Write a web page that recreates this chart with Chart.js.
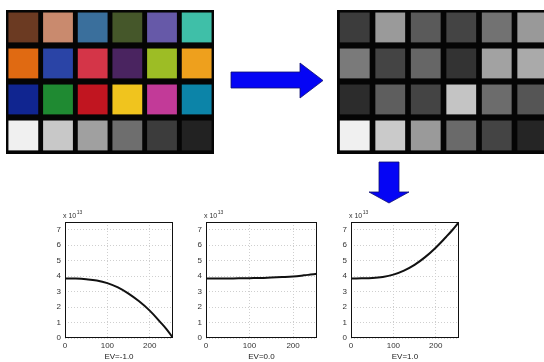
<!DOCTYPE html>
<html><head><meta charset="utf-8">
<script src="https://cdn.jsdelivr.net/npm/chart.js@4/dist/chart.umd.min.js"></script>
<style>
html,body{margin:0;padding:0;background:#fff;width:544px;height:362px;overflow:hidden;position:relative}
canvas{position:absolute;display:block}
svg{position:absolute;left:0;top:0}
</style></head><body>
<canvas id="color" width="208" height="144" style="left:6px;top:10px"></canvas>
<canvas id="gray" width="213" height="144" style="left:337px;top:10px"></canvas>
<svg width="544" height="362">
  <polygon points="231,72 300,72 300,63 323,80.5 300,98 300,88 231,88" fill="#0505f5" stroke="#101070" stroke-width="0.8"/>
  <polygon points="379,162 399,162 399,192 409,192 389,203 369,192 379,192" fill="#0505f5" stroke="#101070" stroke-width="0.8"/>
</svg>
<canvas id="p1" width="141" height="157" style="left:40px;top:205px"></canvas>
<canvas id="p2" width="144" height="157" style="left:181px;top:205px"></canvas>
<canvas id="p3" width="141" height="157" style="left:326px;top:205px"></canvas>
<script>
// ---- colour checker (rows top to bottom) ----
const checkerCols = ['1','2','3','4','5','6'];
const colorRow1 = ['#6b3a22','#c98a6e','#3a6f9c','#45572a','#6659a8','#3fbfa8'];
const colorRow2 = ['#e06a12','#2a44a6','#d43548','#4a2460','#9dbd25','#eea01d'];
const colorRow3 = ['#102590','#1f8a32','#c11520','#f0c41e','#c23a98','#0c84a8'];
const colorRow4 = ['#f0f0f0','#c8c8c8','#a0a0a0','#6e6e6e','#3c3c3c','#222222'];
// ---- grayscale result ----
const grayRow1 = ['#3c3c3c','#9a9a9a','#5a5a5a','#444444','#727272','#999999'];
const grayRow2 = ['#7a7a7a','#444444','#666666','#333333','#a2a2a2','#aaaaaa'];
const grayRow3 = ['#2c2c2c','#5e5e5e','#444444','#c4c4c4','#6c6c6c','#555555'];
const grayRow4 = ['#f0f0f0','#cacaca','#9a9a9a','#6a6a6a','#444444','#252525'];
// ---- curves ----
const xVals  = [0,25,50,75,100,125,150,175,200,225,240,255];
const evNeg1 = [3.85,3.84,3.80,3.72,3.55,3.27,2.87,2.37,1.77,1.03,0.56,0.00];
const ev0    = [3.85,3.85,3.85,3.86,3.87,3.88,3.91,3.94,3.98,4.05,4.10,4.15];
const evPos1 = [3.85,3.86,3.88,3.95,4.10,4.36,4.73,5.23,5.84,6.55,7.00,7.50];
const xTicks = [0,100,200];
const yTicks = [0,1,2,3,4,5,6,7];
const titles = ['EV=-1.0','EV=0.0','EV=1.0'];

const blackBg = {id:'bg',beforeDraw(c){const x=c.ctx;x.save();x.fillStyle='#050505';x.fillRect(0,0,c.width,c.height);x.restore();}};

function checker(id, rows, barPct){
  new Chart(document.getElementById(id),{
    type:'bar',
    data:{labels:checkerCols,datasets:rows.map((cols,i)=>({
      data:cols.map(()=>[i+0.07,i+0.9]),
      backgroundColor:cols,borderWidth:0,grouped:false,
      barPercentage:barPct,categoryPercentage:1
    }))},
    options:{responsive:false,animation:false,devicePixelRatio:1,
      layout:{padding:0},
      plugins:{legend:{display:false},tooltip:{enabled:false}},
      scales:{x:{display:false},y:{display:false,min:0,max:4,reverse:true}}},
    plugins:[blackBg]
  });
}
checker('color',[colorRow1,colorRow2,colorRow3,colorRow4],0.86);
checker('gray',[grayRow1,grayRow2,grayRow3,grayRow4],0.84);

const boxPlugin = {id:'box',afterDraw(c){
  const a=c.chartArea,x=c.ctx;x.save();
  x.strokeStyle='#111';x.lineWidth=1;x.strokeRect(a.left+0.5,a.top+0.5,a.right-a.left-1,a.bottom-a.top-1);
  x.fillStyle='#333';x.font='7px "Liberation Sans"';x.textBaseline='alphabetic';x.textAlign='left';
  x.fillText('x 10',a.left-2,a.top-4);
  const w=x.measureText('x 10').width;
  x.font='5px "Liberation Sans"';x.fillText('13',a.left-2+w+0.5,a.top-8);
  x.restore();
}};

function plot(id, ys, title, padRight){
  new Chart(document.getElementById(id),{
    type:'line',
    data:{datasets:[{data:xVals.map((v,i)=>({x:v,y:ys[i]})),borderColor:'#111',borderWidth:2,
      pointRadius:0,tension:0.4,fill:false}]},
    options:{responsive:false,animation:false,devicePixelRatio:1,
      layout:{padding:{top:17,right:padRight,left:0,bottom:0}},
      plugins:{legend:{display:false},tooltip:{enabled:false}},
      scales:{
        x:{type:'linear',min:0,max:255,
          afterBuildTicks:s=>{s.ticks=xTicks.map(v=>({value:v}));},
          afterFit:s=>{s.height=24;},
          border:{display:false,dash:[1,2]},
          grid:{color:'#cfcfcf',drawTicks:false,lineWidth:1},
          ticks:{autoSkip:false,maxRotation:0,padding:3,color:'#333',font:{family:'Liberation Sans',size:8}},
          title:{display:true,text:title,color:'#222',padding:{top:0,bottom:0},font:{family:'Liberation Sans',size:8}}},
        y:{type:'linear',min:0,max:7.5,
          afterBuildTicks:s=>{s.ticks=yTicks.map(v=>({value:v}));},
          afterFit:s=>{s.width=25;},
          border:{display:false,dash:[1,2]},
          grid:{color:'#cfcfcf',drawTicks:false,lineWidth:1},
          ticks:{autoSkip:false,padding:4,color:'#333',font:{family:'Liberation Sans',size:8}}}
      }},
    plugins:[boxPlugin]
  });
}
plot('p1',evNeg1,titles[0],8);
plot('p2',ev0,titles[1],8);
plot('p3',evPos1,titles[2],8);
</script>
</body></html>
